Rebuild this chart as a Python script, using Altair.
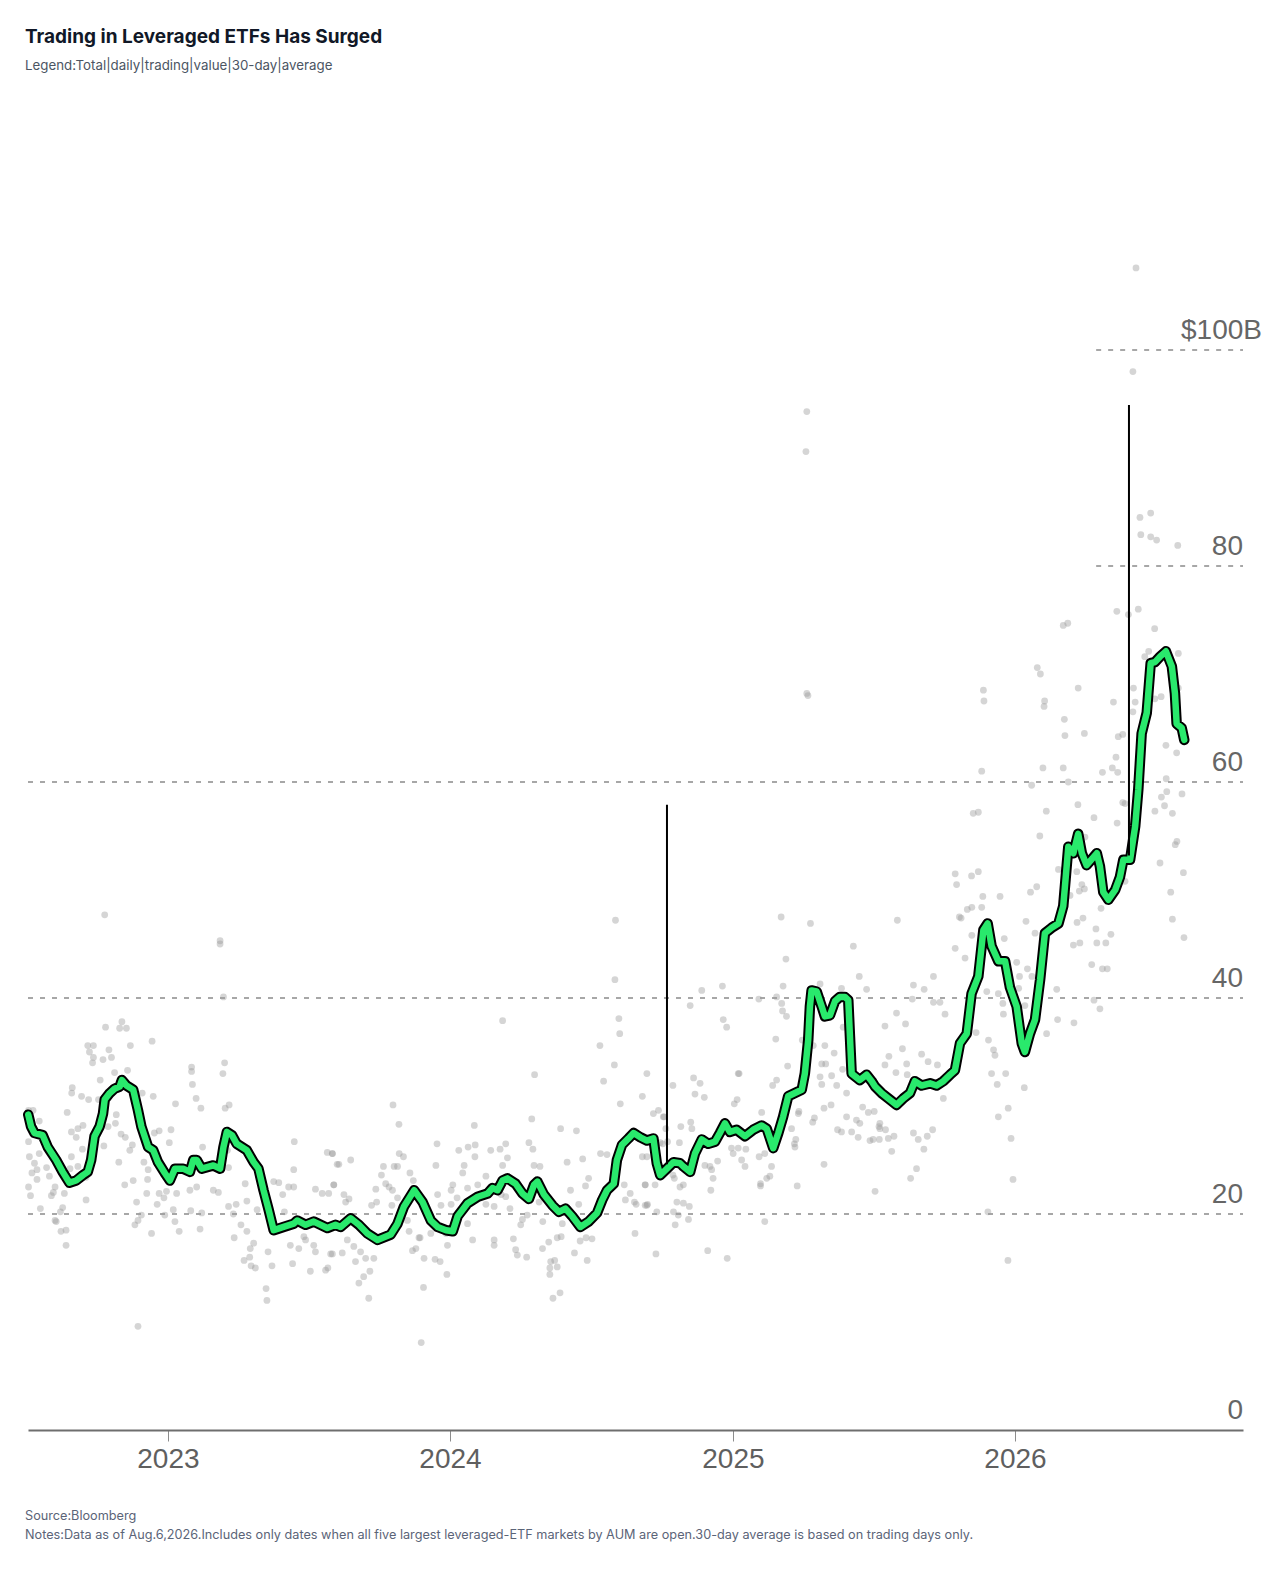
import altair as alt
import pandas as pd

TITLE = "Trading in Leveraged ETFs Has Surged"
SUBTITLE = "Legend:Total|daily|trading|value|30-day|average"
SOURCE = "Source:Bloomberg"
NOTES = ("Notes:Data as of Aug.6,2026.Includes only dates when all five largest leveraged-ETF "
         "markets by AUM are open.30-day average is based on trading days only.")

# 30-day average (decimal year, $B)
LINE_2022 = [(2022.505, 29.2), (2022.515, 28.1), (2022.527, 27.5), (2022.556, 27.3), (2022.574, 26.2),
             (2022.604, 25.0), (2022.627, 23.9), (2022.651, 22.9), (2022.675, 23.1), (2022.699, 23.6),
             (2022.716, 23.9), (2022.728, 25.0), (2022.740, 27.2), (2022.758, 28.1), (2022.770, 29.3),
             (2022.776, 30.6), (2022.794, 31.2), (2022.811, 31.6), (2022.829, 31.8), (2022.837, 32.4),
             (2022.853, 31.9), (2022.877, 31.5), (2022.894, 29.6), (2022.906, 28.1), (2022.930, 26.2),
             (2022.948, 25.9), (2022.965, 24.8), (2022.989, 23.8)]
LINE_2023 = [(2023.007, 23.1), (2023.025, 24.2), (2023.054, 24.2), (2023.078, 23.9), (2023.090, 25.0),
             (2023.102, 25.0), (2023.120, 24.2), (2023.161, 24.5), (2023.185, 24.2), (2023.197, 26.2),
             (2023.209, 27.6), (2023.227, 27.3), (2023.244, 26.5), (2023.280, 25.9), (2023.304, 24.8),
             (2023.321, 24.2), (2023.339, 22.2), (2023.357, 20.4), (2023.375, 18.5), (2023.410, 18.8),
             (2023.446, 19.1), (2023.458, 19.4), (2023.488, 19.0), (2023.517, 19.3), (2023.565, 18.7),
             (2023.594, 19.0), (2023.612, 18.8), (2023.648, 19.6), (2023.677, 19.0), (2023.707, 18.2),
             (2023.743, 17.6), (2023.790, 18.1), (2023.814, 19.1), (2023.837, 20.7), (2023.873, 22.2),
             (2023.903, 21.1), (2023.932, 19.4), (2023.956, 18.8), (2023.986, 18.5)]
LINE_2024 = [(2024.010, 18.4), (2024.027, 19.8), (2024.062, 21.0), (2024.098, 21.6), (2024.133, 21.9),
             (2024.150, 22.4), (2024.168, 22.2), (2024.186, 23.1), (2024.203, 23.3), (2024.232, 22.8),
             (2024.256, 21.9), (2024.279, 21.4), (2024.297, 22.7), (2024.309, 23.0), (2024.332, 21.8),
             (2024.362, 20.8), (2024.385, 20.2), (2024.408, 20.5), (2024.432, 19.8), (2024.461, 18.8),
             (2024.490, 19.3), (2024.520, 20.1), (2024.538, 21.3), (2024.555, 22.2), (2024.579, 22.8),
             (2024.590, 25.0), (2024.608, 26.4), (2024.631, 27.0), (2024.649, 27.5), (2024.673, 27.1),
             (2024.696, 26.8), (2024.719, 27.0), (2024.731, 24.7), (2024.743, 23.6), (2024.767, 24.2),
             (2024.790, 24.8), (2024.813, 24.7), (2024.825, 24.4), (2024.849, 23.9), (2024.866, 25.6),
             (2024.890, 26.9), (2024.913, 26.5), (2024.937, 26.7), (2024.954, 27.5), (2024.972, 28.4),
             (2024.989, 27.6)]
LINE_2025 = [(2025.013, 27.8), (2025.043, 27.2), (2025.072, 27.8), (2025.102, 28.2), (2025.120, 27.9),
             (2025.143, 26.1), (2025.161, 27.5), (2025.178, 29.0), (2025.196, 30.9), (2025.220, 31.2),
             (2025.244, 31.5), (2025.255, 33.0), (2025.267, 36.1), (2025.273, 39.2), (2025.279, 40.7),
             (2025.297, 40.6), (2025.315, 39.2), (2025.326, 38.3), (2025.344, 38.4), (2025.362, 39.7),
             (2025.379, 40.1), (2025.397, 40.1), (2025.409, 39.8), (2025.415, 36.4), (2025.421, 33.0),
             (2025.450, 32.4), (2025.474, 32.9), (2025.492, 32.3), (2025.504, 31.8), (2025.527, 31.2),
             (2025.551, 30.7), (2025.580, 30.1), (2025.604, 30.7), (2025.628, 31.2), (2025.645, 32.3),
             (2025.669, 31.9), (2025.699, 32.1), (2025.722, 31.9), (2025.746, 32.3), (2025.770, 32.9),
             (2025.787, 33.3), (2025.805, 35.8), (2025.829, 36.7), (2025.846, 40.4), (2025.870, 42.0),
             (2025.888, 46.3), (2025.903, 46.9), (2025.917, 44.8), (2025.941, 43.4), (2025.965, 43.4),
             (2025.982, 41.0)]
LINE_2026 = [(2026.006, 39.2), (2026.024, 35.8), (2026.035, 35.0), (2026.053, 36.7), (2026.071, 38.0),
             (2026.089, 41.7), (2026.106, 46.0), (2026.130, 46.5), (2026.154, 46.9), (2026.171, 48.5),
             (2026.189, 54.0), (2026.207, 53.4), (2026.224, 55.2), (2026.237, 53.4), (2026.254, 52.3),
             (2026.290, 53.4), (2026.301, 52.2), (2026.313, 49.8), (2026.331, 49.1), (2026.355, 50.0),
             (2026.372, 51.2), (2026.384, 52.8), (2026.408, 52.8), (2026.426, 55.9), (2026.437, 59.3),
             (2026.449, 64.5), (2026.467, 66.4), (2026.481, 71.0), (2026.496, 71.1), (2026.514, 71.6),
             (2026.535, 72.1), (2026.556, 70.7), (2026.567, 68.2), (2026.573, 65.4), (2026.591, 65.0),
             (2026.600, 63.9)]

# Total daily trading value (decimal year, $B)
PTS_2022 = [(2022.776, 47.7), (2022.837, 37.8), (2022.779, 37.3), (2022.829, 37.2), (2022.853, 37.2),
            (2022.716, 35.6), (2022.736, 35.6), (2022.867, 35.6), (2022.944, 36.0), (2022.791, 35.2),
            (2022.722, 35.0), (2022.736, 34.5), (2022.800, 34.5), (2022.770, 34.3), (2022.733, 34.0),
            (2022.857, 33.3), (2022.811, 33.1), (2022.760, 32.4), (2022.661, 31.7), (2022.659, 31.2),
            (2022.694, 30.9), (2022.719, 30.6), (2022.909, 31.2), (2022.948, 30.9), (2022.754, 30.6),
            (2022.506, 29.6), (2022.522, 29.6), (2022.643, 29.4), (2022.817, 29.2), (2022.544, 28.6),
            (2022.814, 28.4), (2022.788, 28.1), (2022.699, 28.2), (2022.681, 27.9), (2022.658, 27.6),
            (2022.675, 27.1), (2022.834, 27.4), (2022.849, 27.1), (2022.952, 27.5), (2022.969, 27.7),
            (2022.506, 26.7), (2022.773, 26.3), (2022.874, 26.4), (2022.865, 25.9), (2022.697, 26.0),
            (2022.509, 25.3), (2022.544, 25.6), (2022.527, 24.7), (2022.658, 25.3), (2022.826, 24.8),
            (2022.915, 24.8), (2022.570, 24.3), (2022.518, 23.8), (2022.536, 24.1), (2022.653, 24.2),
            (2022.681, 24.4), (2022.930, 24.1), (2022.580, 23.5), (2022.536, 23.2), (2022.710, 23.4),
            (2022.928, 23.2), (2022.877, 23.1), (2022.847, 22.7), (2022.506, 22.5), (2022.600, 22.5),
            (2022.594, 22.0), (2022.633, 21.9), (2022.513, 21.7), (2022.587, 21.7), (2022.925, 21.9),
            (2022.969, 21.9), (2022.995, 22.1), (2022.962, 20.9), (2022.986, 21.5), (2022.889, 21.1),
            (2022.710, 21.3), (2022.548, 20.5), (2022.627, 20.6), (2022.619, 20.2), (2022.906, 19.9),
            (2022.883, 19.0), (2022.894, 19.4), (2022.989, 19.9), (2022.600, 19.4), (2022.604, 19.3),
            (2022.621, 18.4), (2022.639, 18.5), (2022.639, 17.1), (2022.942, 18.2), (2022.894, 9.6)]
PTS_2023 = [(2023.185, 45.3), (2023.185, 45.0), (2023.197, 40.1), (2023.084, 33.6), (2023.084, 33.2),
            (2023.201, 34.0), (2023.195, 33.0), (2023.087, 32.0), (2023.100, 30.7), (2023.027, 30.2),
            (2023.217, 30.1), (2023.203, 29.8), (2023.117, 29.8), (2023.011, 27.8), (2023.005, 26.6),
            (2023.123, 26.2), (2023.211, 25.9), (2023.448, 26.7), (2023.446, 24.1), (2023.565, 25.7),
            (2023.583, 25.6), (2023.600, 24.6), (2023.215, 24.3), (2023.274, 22.8), (2023.375, 23.0),
            (2023.393, 22.9), (2023.428, 22.5), (2023.446, 22.5), (2023.523, 22.3), (2023.547, 21.9),
            (2023.570, 21.9), (2023.588, 22.7), (2023.031, 21.9), (2023.078, 22.2), (2023.102, 22.5),
            (2023.161, 22.2), (2023.179, 22.0), (2023.280, 21.2), (2023.407, 21.8), (2023.413, 20.2),
            (2023.120, 20.1), (2023.081, 20.3), (2023.215, 20.7), (2023.242, 20.9), (2023.019, 20.4),
            (2023.316, 20.4), (2023.232, 20.0), (2023.025, 19.3), (2023.040, 18.4), (2023.114, 18.6),
            (2023.259, 19.0), (2023.280, 18.4), (2023.235, 17.8), (2023.292, 16.8), (2023.304, 17.3),
            (2023.290, 16.0), (2023.270, 15.7), (2023.295, 15.2), (2023.310, 15.0), (2023.355, 16.5),
            (2023.369, 15.2), (2023.348, 13.1), (2023.351, 12.0), (2023.434, 17.1), (2023.464, 16.8),
            (2023.488, 17.6), (2023.482, 17.9), (2023.517, 17.1), (2023.523, 16.5), (2023.577, 16.3),
            (2023.567, 15.0), (2023.559, 14.8), (2023.505, 14.7), (2023.442, 15.4), (2023.798, 30.1),
            (2023.819, 28.3), (2023.954, 26.5), (2023.583, 25.6), (2023.606, 24.6), (2023.648, 25.0),
            (2023.820, 25.6), (2023.835, 25.3), (2023.764, 24.4), (2023.802, 24.4), (2023.814, 24.4),
            (2023.950, 24.5), (2023.757, 23.6), (2023.858, 23.8), (2023.870, 23.1), (2023.588, 22.7),
            (2023.737, 22.3), (2023.772, 22.8), (2023.784, 22.5), (2023.796, 22.2), (2023.956, 21.8),
            (2023.624, 21.8), (2023.642, 21.4), (2023.630, 21.1), (2023.722, 20.8), (2023.740, 21.1),
            (2023.794, 20.8), (2023.814, 21.5), (2023.968, 20.8), (2023.849, 19.4), (2023.855, 18.4),
            (2023.894, 17.8), (2023.932, 18.2), (2023.986, 18.2), (2023.991, 17.1), (2023.636, 17.6),
            (2023.659, 17.0), (2023.618, 16.4), (2023.665, 15.6), (2023.683, 16.5), (2023.701, 15.9),
            (2023.730, 15.9), (2023.694, 14.2), (2023.677, 13.6), (2023.716, 14.7), (2023.712, 12.2),
            (2023.583, 16.3), (2023.879, 16.8), (2023.890, 17.8), (2023.867, 16.6), (2023.908, 15.9),
            (2023.947, 15.8), (2023.965, 15.6), (2023.989, 14.4), (2023.906, 13.2), (2023.898, 8.1)]
PTS_2024 = [(2024.585, 47.2), (2024.583, 41.7), (2024.597, 38.1), (2024.600, 36.7), (2024.530, 35.6),
            (2024.581, 33.8), (2024.543, 32.3), (2024.602, 30.2), (2024.186, 37.9), (2024.299, 32.9),
            (2024.289, 28.8), (2024.086, 28.2), (2024.391, 27.9), (2024.447, 27.7), (2024.031, 25.9),
            (2024.064, 26.2), (2024.089, 26.4), (2024.144, 25.9), (2024.177, 26.0), (2024.197, 26.5),
            (2024.279, 26.6), (2024.293, 26.0), (2024.050, 24.5), (2024.088, 25.3), (2024.203, 25.2),
            (2024.186, 24.5), (2024.297, 24.5), (2024.318, 24.4), (2024.414, 24.8), (2024.469, 25.1),
            (2024.490, 23.3), (2024.479, 22.6), (2024.532, 25.6), (2024.555, 25.5), (2024.045, 23.8),
            (2024.127, 23.5), (2024.010, 22.7), (2024.004, 22.2), (2024.062, 22.4), (2024.098, 22.7),
            (2024.025, 21.5), (2024.181, 21.8), (2024.197, 21.6), (2024.315, 21.1), (2024.426, 22.2),
            (2024.455, 20.9), (2024.690, 22.7), (2024.616, 22.7), (2024.620, 21.3), (2024.637, 21.9),
            (2024.658, 20.9), (2024.696, 20.8), (2024.652, 21.1), (2024.004, 20.9), (2024.127, 20.9),
            (2024.156, 20.7), (2024.212, 20.5), (2024.256, 19.5), (2024.273, 19.9), (2024.328, 19.3),
            (2024.397, 19.1), (2024.062, 19.1), (2024.080, 17.6), (2024.156, 17.6), (2024.156, 17.1),
            (2024.224, 17.7), (2024.250, 19.0), (2024.232, 16.7), (2024.238, 16.2), (2024.271, 16.0),
            (2024.327, 16.8), (2024.349, 17.4), (2024.379, 17.8), (2024.393, 17.9), (2024.440, 16.4),
            (2024.460, 17.5), (2024.481, 17.8), (2024.502, 17.7), (2024.485, 15.7), (2024.356, 15.6),
            (2024.370, 15.7), (2024.379, 15.1), (2024.353, 15.0), (2024.353, 14.4), (2024.364, 12.2),
            (2024.389, 12.7), (2024.654, 18.2), (2024.890, 40.7), (2024.963, 41.1), (2024.849, 39.3),
            (2024.966, 38.0), (2024.978, 37.3), (2024.696, 33.0), (2024.861, 32.6), (2024.884, 32.1),
            (2024.788, 31.9), (2024.866, 31.1), (2024.899, 30.8), (2024.680, 30.9), (2024.719, 29.3),
            (2024.737, 29.6), (2024.757, 29.0), (2024.901, 24.5), (2024.919, 24.4), (2024.925, 24.1),
            (2024.930, 23.3), (2024.946, 24.9), (2024.922, 22.2), (2024.911, 16.6), (2024.980, 15.9),
            (2024.995, 26.1), (2024.811, 26.6), (2024.851, 28.5), (2024.855, 27.9), (2024.816, 28.1),
            (2024.763, 27.9), (2024.769, 26.7), (2024.752, 26.5), (2024.788, 23.6), (2024.793, 23.3),
            (2024.813, 22.5), (2024.825, 22.7), (2024.802, 21.1), (2024.825, 21.0), (2024.846, 20.7),
            (2024.790, 20.2), (2024.807, 19.9), (2024.843, 19.5), (2024.796, 19.0), (2024.690, 22.7),
            (2024.725, 22.7), (2024.731, 20.2), (2024.698, 20.9), (2024.690, 20.8), (2024.728, 16.3),
            (2024.680, 25.3), (2024.696, 25.3), (2024.743, 26.6), (2024.754, 29.0)]
PTS_2025 = [(2025.171, 47.5), (2025.275, 46.9), (2025.188, 43.6), (2025.427, 44.8), (2025.583, 47.2),
            (2025.788, 51.5), (2025.793, 50.5), (2025.788, 44.6), (2025.803, 47.5), (2025.448, 42.0),
            (2025.711, 42.0), (2025.640, 41.2), (2025.678, 40.8), (2025.474, 40.8), (2025.309, 41.3),
            (2025.385, 40.9), (2025.178, 41.1), (2025.155, 40.1), (2025.173, 39.5), (2025.176, 38.8),
            (2025.190, 38.3), (2025.092, 39.9), (2025.636, 39.9), (2025.711, 39.6), (2025.734, 39.6),
            (2025.752, 38.5), (2025.539, 37.4), (2025.580, 38.6), (2025.612, 37.6), (2025.152, 36.2),
            (2025.285, 35.6), (2025.326, 35.6), (2025.359, 34.9), (2025.391, 37.3), (2025.246, 36.1),
            (2025.553, 34.6), (2025.601, 35.3), (2025.669, 34.8), (2025.539, 33.8), (2025.616, 33.9),
            (2025.692, 34.1), (2025.725, 33.8), (2025.315, 33.9), (2025.329, 33.9), (2025.194, 33.7),
            (2025.019, 33.0), (2025.022, 33.0), (2025.350, 32.8), (2025.389, 33.4), (2025.578, 33.1),
            (2025.618, 32.9), (2025.155, 32.4), (2025.141, 31.9), (2025.309, 32.7), (2025.315, 32.0),
            (2025.368, 31.9), (2025.403, 31.2), (2025.102, 29.4), (2025.005, 30.2), (2025.015, 30.6),
            (2025.234, 29.5), (2025.232, 29.3), (2025.223, 26.9), (2025.323, 29.8), (2025.348, 30.1),
            (2025.403, 29.0), (2025.438, 28.7), (2025.450, 28.4), (2025.460, 29.9), (2025.480, 29.4),
            (2025.501, 29.5), (2025.283, 28.5), (2025.289, 28.9), (2025.208, 27.9), (2025.220, 26.2),
            (2025.218, 26.5), (2025.521, 28.4), (2025.521, 27.9), (2025.541, 27.8), (2025.518, 28.1),
            (2025.371, 27.8), (2025.385, 27.6), (2025.421, 27.6), (2025.444, 27.1), (2025.486, 26.8),
            (2025.497, 26.9), (2025.519, 26.9), (2025.551, 27.0), (2025.571, 27.2), (2025.563, 25.8),
            (2025.651, 24.2), (2025.630, 23.3), (2025.657, 26.9), (2025.677, 26.0), (2025.689, 27.2),
            (2025.708, 27.8), (2025.640, 27.5), (2025.504, 22.1), (2025.323, 24.6), (2025.228, 22.6),
            (2025.137, 24.4), (2025.131, 23.5), (2025.120, 23.3), (2025.098, 22.8), (2025.113, 19.3),
            (2025.098, 22.6), (2025.143, 26.9), (2025.113, 25.6), (2025.093, 25.3), (2025.031, 25.0),
            (2025.043, 24.4), (2025.019, 26.1), (2025.046, 26.0), (2025.001, 25.6), (2025.262, 94.3),
            (2025.259, 90.6), (2025.262, 68.2), (2025.266, 68.0), (2025.888, 68.5), (2025.890, 67.5),
            (2025.882, 61.0), (2025.852, 57.1), (2025.870, 57.2), (2025.846, 51.3), (2025.870, 51.7),
            (2025.886, 49.4), (2025.882, 48.4), (2025.947, 49.4), (2025.809, 47.4), (2025.831, 48.2),
            (2025.847, 48.4), (2025.823, 43.7), (2025.847, 45.8), (2025.962, 45.5), (2025.959, 38.5),
            (2025.957, 39.5), (2025.900, 40.6), (2025.941, 40.4), (2025.862, 36.8), (2025.906, 36.1),
            (2025.924, 35.2), (2025.929, 34.7), (2025.917, 33.0), (2025.967, 33.0), (2025.937, 32.0),
            (2025.976, 29.8), (2025.941, 29.0), (2025.746, 30.7), (2025.975, 15.7), (2025.904, 20.2),
            (2025.993, 23.2), (2025.986, 27.0)]
PTS_2026 = [(2026.429, 107.6), (2026.418, 98.0), (2026.443, 84.5), (2026.481, 84.9), (2026.446, 82.9),
            (2026.481, 82.7), (2026.502, 82.4), (2026.577, 81.9), (2026.361, 75.8), (2026.402, 75.5),
            (2026.437, 76.0), (2026.171, 74.5), (2026.187, 74.7), (2026.495, 74.2), (2026.460, 71.6),
            (2026.474, 72.1), (2026.579, 71.9), (2026.079, 70.6), (2026.090, 70.0), (2026.224, 68.7),
            (2026.105, 67.5), (2026.103, 67.0), (2026.349, 67.4), (2026.420, 68.7), (2026.426, 67.4),
            (2026.418, 66.5), (2026.496, 67.7), (2026.518, 67.9), (2026.579, 68.7), (2026.175, 65.8),
            (2026.177, 64.3), (2026.246, 64.5), (2026.366, 64.2), (2026.382, 64.4), (2026.535, 63.4),
            (2026.573, 62.7), (2026.099, 61.3), (2026.171, 61.3), (2026.189, 60.0), (2026.059, 59.7),
            (2026.310, 60.9), (2026.345, 61.3), (2026.364, 60.9), (2026.358, 62.3), (2026.536, 60.3),
            (2026.538, 59.1), (2026.519, 58.6), (2026.496, 57.3), (2026.530, 57.8), (2026.558, 57.1),
            (2026.592, 58.9), (2026.382, 58.1), (2026.390, 58.0), (2026.111, 57.3), (2026.223, 57.9),
            (2026.280, 56.7), (2026.362, 56.2), (2026.088, 55.0), (2026.248, 54.9), (2026.574, 54.5),
            (2026.568, 54.2), (2026.514, 52.5), (2026.597, 51.6), (2026.077, 50.3), (2026.055, 49.8),
            (2026.154, 51.9), (2026.195, 49.5), (2026.219, 51.7), (2026.237, 50.5), (2026.246, 50.1),
            (2026.228, 49.9), (2026.390, 50.8), (2026.552, 49.8), (2026.558, 47.3), (2026.599, 45.6),
            (2026.039, 47.1), (2026.071, 46.0), (2026.220, 47.0), (2026.241, 47.4), (2026.305, 48.3),
            (2026.287, 46.4), (2026.290, 45.1), (2026.322, 45.1), (2026.340, 45.9), (2026.230, 45.1),
            (2026.207, 44.9), (2026.272, 43.1), (2026.310, 42.7), (2026.327, 42.7), (2026.280, 39.8),
            (2026.301, 39.0), (2026.148, 40.8), (2026.151, 38.0), (2026.209, 37.7), (2026.112, 36.7),
            (2026.006, 43.3), (2026.044, 42.7), (2026.016, 42.0), (2026.060, 42.0), (2026.013, 40.9),
            (2026.035, 39.3), (2026.033, 31.7)]

# Annotation rules (decimal year, top, bottom)
RULES = [(2024.767, 57.9, 24.6), (2026.404, 94.9, 53.2)]

# Gridlines: value and the date each dashed line starts
GRID_VALUES = [20, 40, 60, 80, 100]
GRID_START = ["2022-07-04", "2022-07-04", "2022-07-04", "2026-04-16", "2026-04-16"]
Y_LABELS = ["0", "20", "40", "60", "80"]
Y_LABEL_VALUES = [0, 20, 40, 60, 80]
TOP_LABEL = "$100B"
TOP_LABEL_VALUE = 100
YEARS = [2023, 2024, 2025, 2026]


def dec_to_ts(t):
    y = int(t)
    base = pd.Timestamp(year=y, month=1, day=1)
    n = pd.Timestamp(year=y, month=12, day=31).dayofyear
    return base + pd.Timedelta(days=(t - y) * n)


def frame(pairs):
    return pd.DataFrame({"date": [dec_to_ts(t) for t, _ in pairs],
                         "value": [v for _, v in pairs]})


line_df = frame(LINE_2022 + LINE_2023 + LINE_2024 + LINE_2025 + LINE_2026)
pts_df = frame(PTS_2022 + PTS_2023 + PTS_2024 + PTS_2025 + PTS_2026)
rule_df = pd.DataFrame({"date": [dec_to_ts(t) for t, _, _ in RULES],
                        "top": [a for _, a, _ in RULES],
                        "bottom": [b for _, _, b in RULES]})
grid_df = pd.DataFrame({"start": pd.to_datetime(GRID_START), "value": GRID_VALUES})
ylab_df = pd.DataFrame({"value": Y_LABEL_VALUES, "label": Y_LABELS})
top_df = pd.DataFrame({"value": [TOP_LABEL_VALUE], "label": [TOP_LABEL]})

W, H = 1215, 1188

xscale = alt.Scale(domain=[alt.DateTime(year=2022, month=7, date=4),
                           alt.DateTime(year=2026, month=10, date=23)])
yscale = alt.Scale(domain=[0, 110], nice=False)
xaxis = alt.Axis(title=None, format="%Y",
                 values=[alt.DateTime(year=y, month=1, date=1) for y in YEARS],
                 grid=False, domainColor="#6e6e6e", domainWidth=2,
                 tickColor="#8c8c8c", tickWidth=1, tickSize=11,
                 labelFontSize=28, labelColor="#5f5f5f", labelFont="Liberation Sans",
                 labelPadding=4, labelFlush=False)

grid = alt.Chart(grid_df).mark_rule(color="#8a8a8a", strokeWidth=1.3, strokeDash=[5, 7]).encode(
    x=alt.X("start:T", scale=xscale, axis=xaxis),
    x2=alt.value(W),
    y=alt.Y("value:Q", scale=yscale, axis=None),
)

points = alt.Chart(pts_df).mark_circle(size=46, color="#9a9a9a", opacity=0.42).encode(
    x=alt.X("date:T", scale=xscale, axis=xaxis),
    y=alt.Y("value:Q", scale=yscale, axis=None),
)

outline = alt.Chart(line_df).mark_line(color="black", strokeWidth=10.5,
                                       strokeJoin="round", strokeCap="round").encode(
    x=alt.X("date:T", scale=xscale, axis=xaxis),
    y=alt.Y("value:Q", scale=yscale, axis=None),
)

green = alt.Chart(line_df).mark_line(color="#29e96c", strokeWidth=6.5,
                                     strokeJoin="round", strokeCap="round").encode(
    x=alt.X("date:T", scale=xscale, axis=xaxis),
    y=alt.Y("value:Q", scale=yscale, axis=None),
)

rules = alt.Chart(rule_df).mark_rule(color="black", strokeWidth=2).encode(
    x=alt.X("date:T", scale=xscale, axis=xaxis),
    y=alt.Y("top:Q", scale=yscale, axis=None),
    y2="bottom:Q",
)

ylabels = alt.Chart(ylab_df).mark_text(align="right", baseline="alphabetic", dy=-11,
                                       fontSize=28, font="Liberation Sans", color="#666666").encode(
    x=alt.value(W),
    y=alt.Y("value:Q", scale=yscale, axis=None),
    text="label:N",
)

toplabel = alt.Chart(top_df).mark_text(align="right", baseline="alphabetic", dy=-11,
                                       fontSize=28, font="Liberation Sans", color="#666666").encode(
    x=alt.value(W + 19),
    y=alt.Y("value:Q", scale=yscale, axis=None),
    text="label:N",
)


def note(text, y, size, color, weight="normal"):
    return alt.Chart(pd.DataFrame({"t": [text]})).mark_text(
        align="left", baseline="alphabetic", font="Inter", fontSize=size,
        fontWeight=weight, color=color).encode(
        x=alt.value(-3), y=alt.value(y), text="t:N")


title = note(TITLE, -199, 19, "#111827", "bold")
subtitle = note(SUBTITLE, -172, 13.3, "#4b5563")
source = note(SOURCE, 1278, 12.7, "#5b6478")
notes = note(NOTES, 1297, 12.7, "#5b6478")

chart = alt.layer(grid, points, outline, green, rules, ylabels, toplabel,
                  title, subtitle, source, notes).properties(
    width=W, height=H,
    padding={"left": 20, "top": 234, "right": 37, "bottom": 120},
    autosize=alt.AutoSizeParams(type="none"),
).configure_view(strokeWidth=0)

chart.save("out.html", embed_options={"renderer": "svg", "actions": False})
